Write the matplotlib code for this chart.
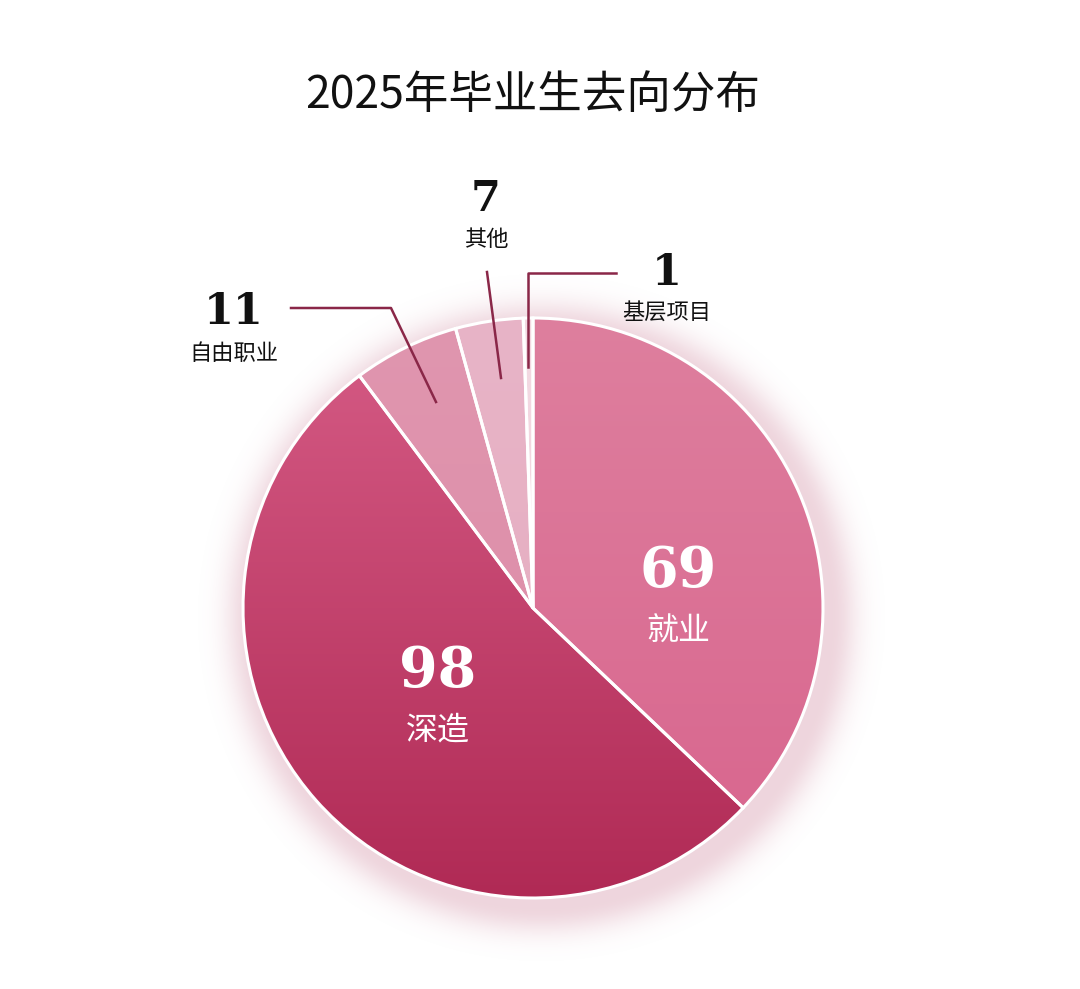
import numpy as np
import matplotlib.pyplot as plt
from matplotlib.colors import to_rgb

# 数据
labels = ["就业", "深造", "自由职业", "其他", "基层项目"]
values = [69, 98, 11, 7, 1]
top_colors = ["#de7f9e", "#d65c86", "#e096af", "#e8b4c7", "#f3d9e2"]
bottom_colors = ["#d8648d", "#b02a55", "#dc8aa6", "#e5abbf", "#f0d2dc"]

W, H = 1080, 989
cx, cy, R = 533, H - 608, 290

plt.rcParams['font.family'] = ['Noto Sans CJK SC', 'DejaVu Sans']
num_font = 'DejaVu Serif'

fig = plt.figure(figsize=(W / 100, H / 100), dpi=100)
ax = fig.add_axes([0, 0, 1, 1])

# 阴影
gx, gy = np.meshgrid(np.arange(W), np.arange(H))
d = np.hypot(gx - (cx + 8), gy - (cy - 10)) - R
alpha = np.where(d > 0, 0.28 * np.exp(-(d / 26.0) ** 2), 0.28)
glow = np.zeros((H, W, 4))
glow[..., :3] = to_rgb("#c46a86")
glow[..., 3] = alpha
ax.imshow(glow, extent=(0, W, 0, H), origin='lower', zorder=0.5)

wedges, _ = ax.pie(values, startangle=90, counterclock=False, center=(cx, cy), radius=R,
                   colors=top_colors,
                   wedgeprops=dict(edgecolor='white', linewidth=2.2))

# 渐变填充
t = np.linspace(0, 1, 256)[:, None]
for w, c1, c2 in zip(wedges, top_colors, bottom_colors):
    c1 = np.array(to_rgb(c1)); c2 = np.array(to_rgb(c2))
    grad = (c1 * (1 - t) + c2 * t)[:, None, :].repeat(2, axis=1)
    im = ax.imshow(grad, extent=(cx - R, cx + R, cy - R, cy + R), origin='upper',
                   aspect='auto', zorder=1.5, interpolation='bilinear')
    im.set_clip_path(w)
    w.set_facecolor('none')
    w.set_zorder(2)

ax.set_xlim(0, W)
ax.set_ylim(0, H)
ax.set_aspect('equal')
ax.axis('off')

# 标题
ax.text(533, H - 95, "2025年毕业生去向分布", fontsize=32, ha='center', va='center', color='#111111')

# 内部标签
ax.text(678, H - 572, str(values[0]), fontsize=40, fontweight='bold', family=num_font,
        color='white', ha='center', va='center', zorder=3)
ax.text(678, H - 632, labels[0], fontsize=23, color='white', ha='center', va='center', zorder=3)
ax.text(438, H - 672, str(values[1]), fontsize=40, fontweight='bold', family=num_font,
        color='white', ha='center', va='center', zorder=3)
ax.text(438, H - 730, labels[1], fontsize=23, color='white', ha='center', va='center', zorder=3)

# 引线和外部标签
line_c = '#8a2748'
ax.plot([291, 391, 436], [H - 308, H - 308, H - 402], color=line_c, lw=1.8, zorder=3)
ax.plot([487, 501], [H - 272, H - 378], color=line_c, lw=1.8, zorder=3)
ax.plot([616, 528, 528], [H - 273, H - 273, H - 367], color=line_c, lw=1.8, zorder=3)

ax.text(234, H - 312, str(values[2]), fontsize=31, fontweight='bold', family=num_font,
        color='#111111', ha='center', va='center')
ax.text(234, H - 353, labels[2], fontsize=16, color='#111111', ha='center', va='center')
ax.text(486, H - 199, str(values[3]), fontsize=31, fontweight='bold', family=num_font,
        color='#111111', ha='center', va='center')
ax.text(486, H - 240, labels[3], fontsize=16, color='#111111', ha='center', va='center')
ax.text(667, H - 273, str(values[4]), fontsize=31, fontweight='bold', family=num_font,
        color='#111111', ha='center', va='center')
ax.text(667, H - 312, labels[4], fontsize=16, color='#111111', ha='center', va='center')

fig.savefig("out.png", dpi=100, facecolor='white')
